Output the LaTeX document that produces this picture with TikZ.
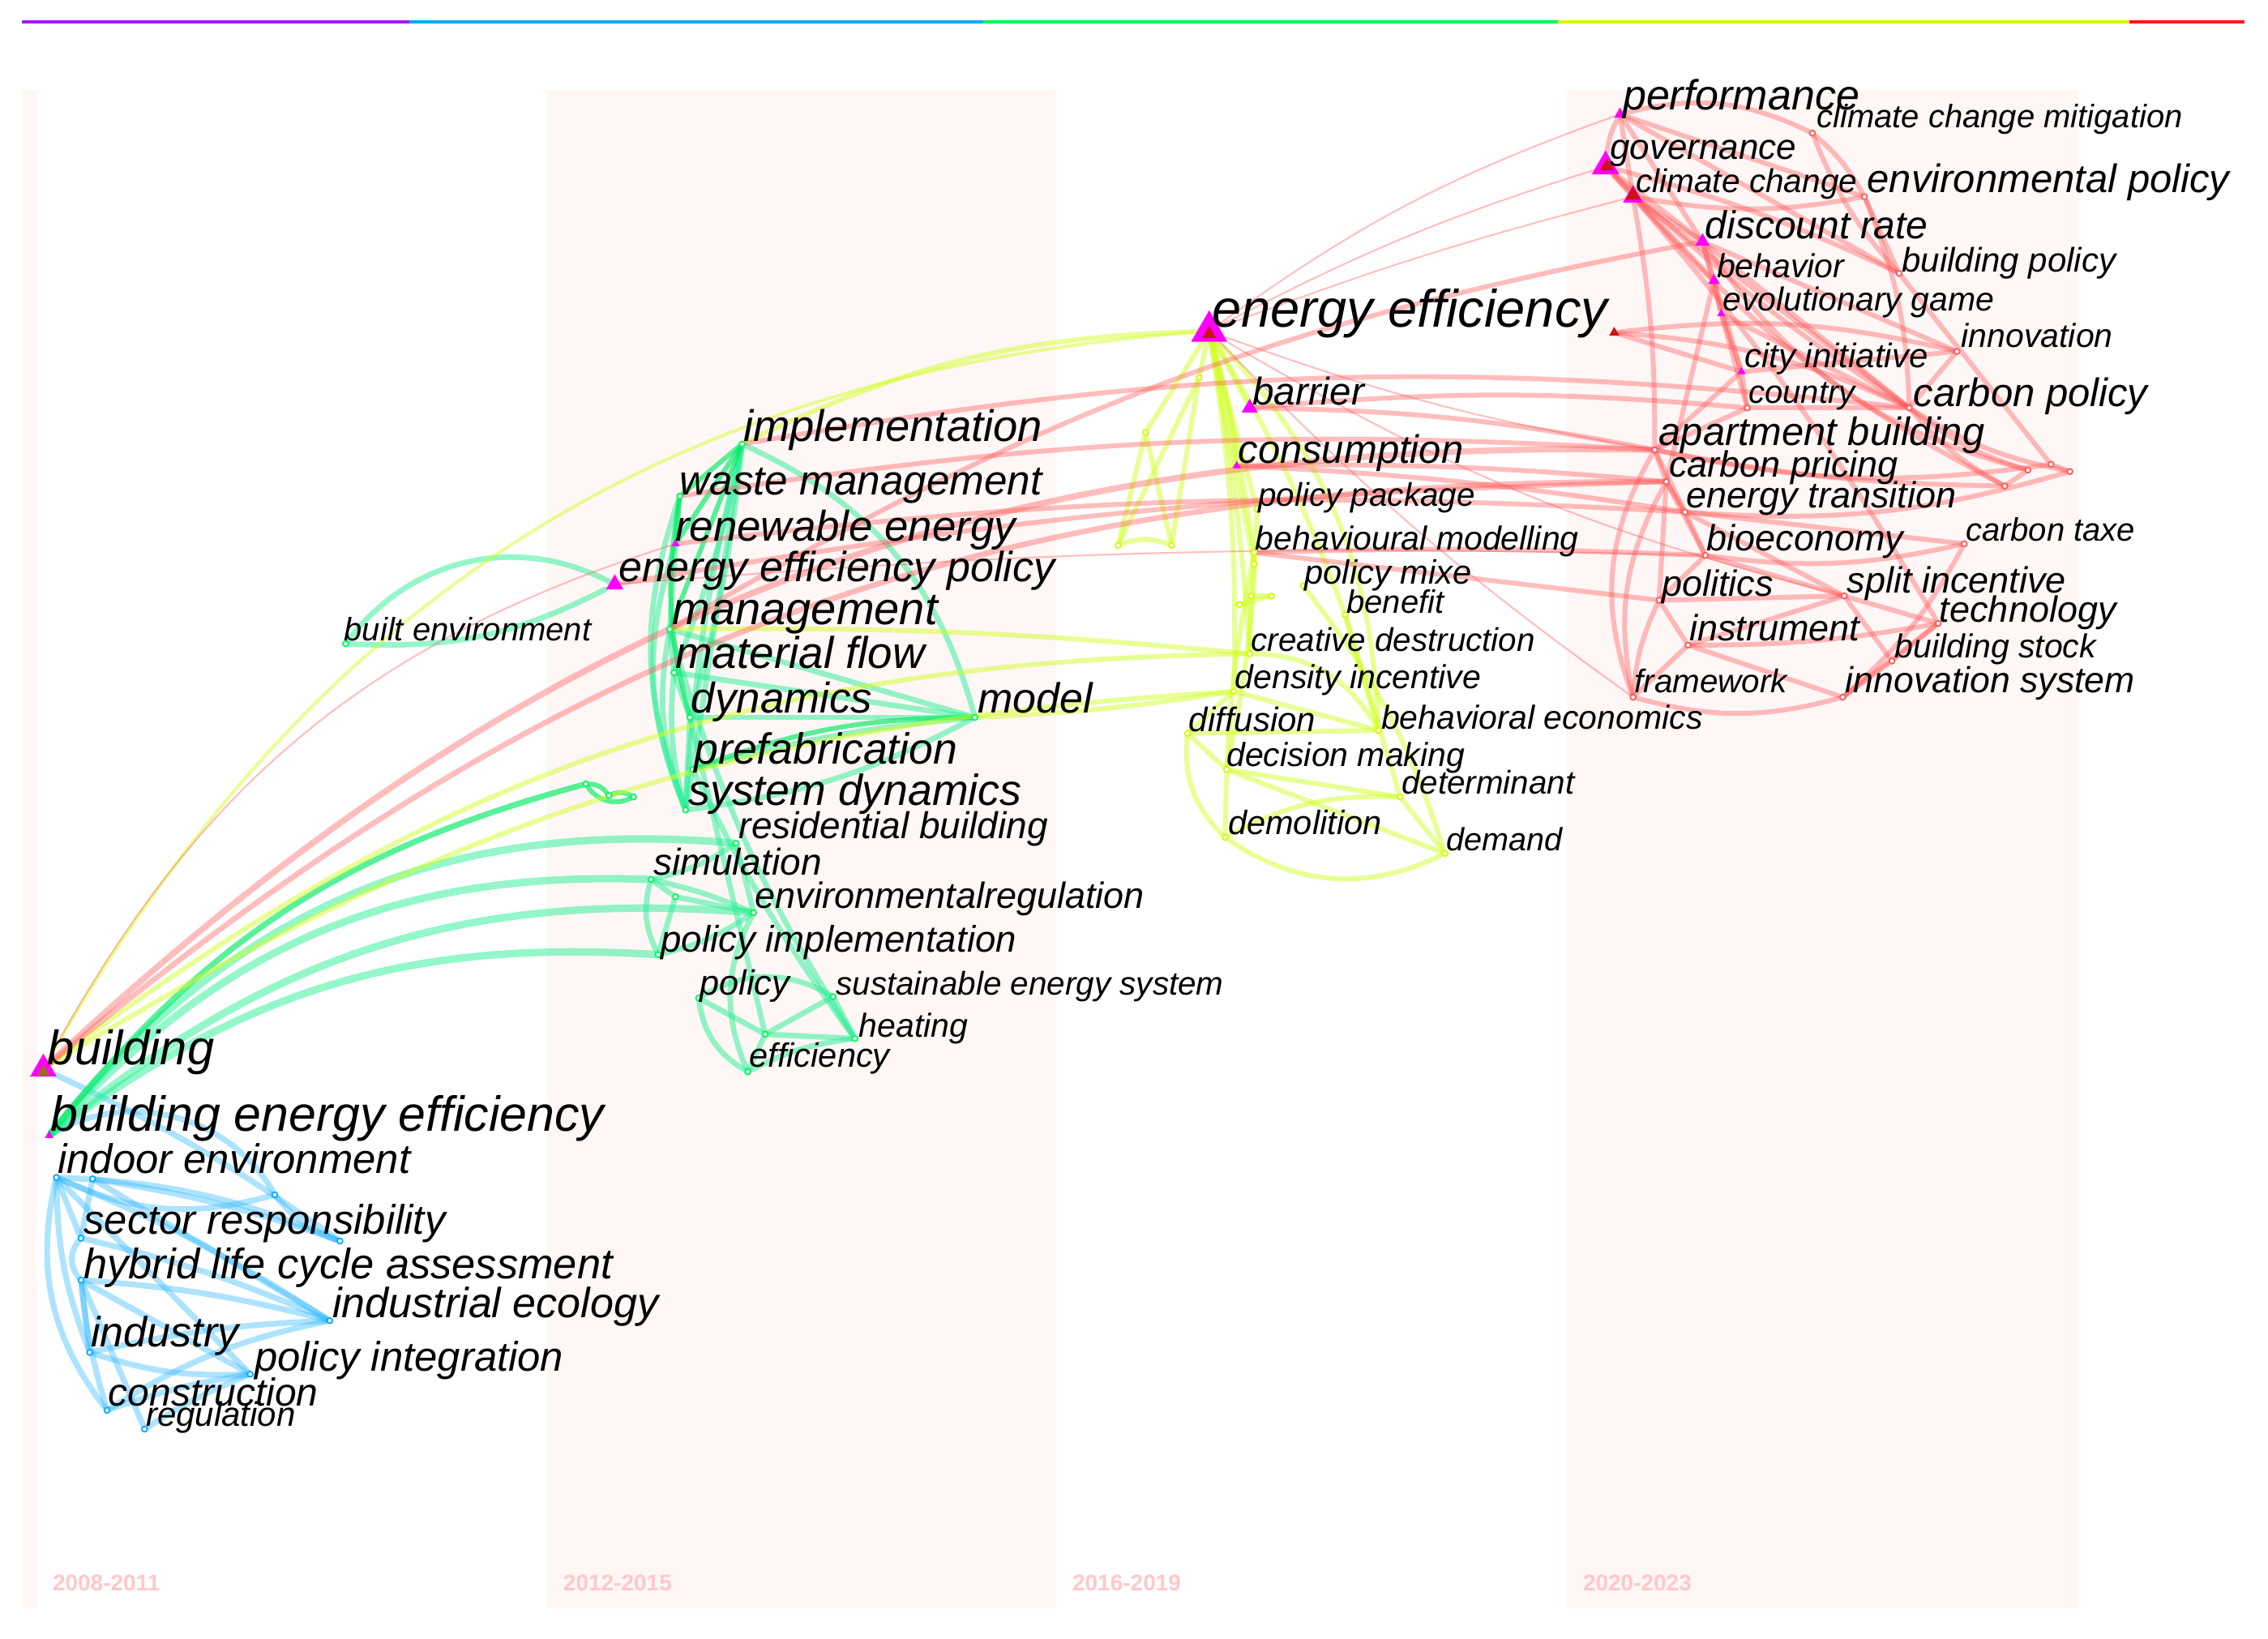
\documentclass[tikz,border=0pt]{standalone}
\usepackage{fontspec}
\setmainfont{Liberation Sans}
\usetikzlibrary{shapes.geometric}
\definecolor{cPur}{RGB}{165,25,250}
\definecolor{cBlu}{RGB}{0,170,255}
\definecolor{cGrn}{RGB}{0,250,90}
\definecolor{cYel}{RGB}{215,250,0}
\definecolor{cRed}{RGB}{255,25,25}
\definecolor{bandc}{RGB}{255,246,246}
\definecolor{yrc}{RGB}{255,200,200}
\definecolor{eRed}{RGB}{255,90,90}
\definecolor{eGrn}{RGB}{40,240,150}
\definecolor{eGrnB}{RGB}{0,235,100}
\definecolor{eBlu}{RGB}{50,185,255}
\definecolor{eYel}{RGB}{210,255,40}
\definecolor{mag}{RGB}{255,0,255}
\definecolor{dred}{RGB}{205,20,20}
\definecolor{olv}{RGB}{150,110,30}
\pgfdeclarelayer{bg}
\pgfdeclarelayer{edges}
\pgfsetlayers{bg,edges,main}
\newcommand\fz[1]{\fontsize{#1}{#1}\selectfont\itshape}
% name, dot style, dot x, dot y, label x, label baseline y, size, text
\newcommand\kw[8]{\node[#2] (#1) at (#3,#4) {};\node[klbl,font=\fz{#7}] (#1-l) at (#5,#6) {#8};}
\begin{document}
\begin{tikzpicture}[x=0.44611pt,y=-0.44611pt,
 klbl/.style={anchor=base west,inner sep=0pt,outer sep=0pt,text=black},
 kd/.style={circle,inner sep=0pt,minimum size=1.7pt,fill=white,draw=#1,line width=0.45pt},
 md/.style={regular polygon,regular polygon sides=3,inner sep=0pt,minimum size=3pt,fill=mag},
 tri/.style={regular polygon,regular polygon sides=3,inner sep=0pt,minimum size=#1,fill=mag},
 yr/.style={anchor=base west,inner sep=0pt,text=yrc,font=\bfseries\fontsize{7}{7}\selectfont},
 eR/.style={draw=eRed,line width=#1,opacity=0.4,line cap=round}, eR/.default=1.5pt,
 eG/.style={draw=eGrn,line width=#1,opacity=0.5,line cap=round}, eG/.default=1.7pt,
 eGb/.style={draw=eGrnB,line width=#1,opacity=0.65,line cap=round}, eGb/.default=1.5pt,
 eB/.style={draw=eBlu,line width=#1,opacity=0.4,line cap=round}, eB/.default=1.8pt,
 eY/.style={draw=eYel,line width=#1,opacity=0.5,line cap=round}, eY/.default=1.5pt]
\useasboundingbox (0,0) rectangle (1568,1133);
\begin{pgfonlayer}{bg}
\fill[white] (0,0) rectangle (1568,1133);
\fill[bandc] (15,62) rectangle (25,1112);
\fill[bandc] (378,62) rectangle (730,1112);
\fill[bandc] (1083,62) rectangle (1437,1112);
\fill[cPur] (15,13.8) rectangle (283,16.2);
\fill[cBlu] (283,13.8) rectangle (680,16.2);
\fill[cGrn] (680,13.8) rectangle (1077,16.2);
\fill[cYel] (1077,13.8) rectangle (1472,16.2);
\fill[cRed] (1472,13.8) rectangle (1552,16.2);
\end{pgfonlayer}
\node[yr] (yr1) at (36,1100) {2008-2011};
\node[yr] (yr2) at (389,1100) {2012-2015};
\node[yr] (yr3) at (741,1100) {2016-2019};
\node[yr] (yr4) at (1094,1100) {2020-2023};
% ---------- 2008-2011
\node[tri=9.5pt] (bld) at (30,739) {};
\node[tri=4.5pt,fill=olv] (bld-c) at (30,741) {};
\node[klbl,font=\fz{14.9}] (bld-l) at (33,736) {building};
\kw{bee}{md}{34}{785}{35}{782}{15.2}{building energy efficiency}
\kw{ind}{kd=cBlu}{39}{814}{40}{811}{12.7}{indoor environment}
\kw{sec}{kd=cBlu}{56}{856}{58}{853}{12.7}{sector responsibility}
\kw{hyb}{kd=cBlu}{56}{885}{58}{884}{13.1}{hybrid life cycle assessment}
\kw{iec}{kd=cBlu}{228}{913}{230}{911}{13}{industrial ecology}
\kw{idy}{kd=cBlu}{62}{935}{63}{931}{13}{industry}
\kw{pin}{kd=cBlu}{173}{950}{176}{948}{12.7}{policy integration}
\kw{con}{kd=cBlu}{74}{975}{75}{972}{12}{construction}
\kw{reg}{kd=cBlu}{100}{988}{101}{986}{10.5}{regulation}
\node[kd=cBlu] (b1) at (64,815) {};
\node[kd=cBlu] (b2) at (190,826) {};
\node[kd=cBlu] (b3) at (235,858) {};
% ---------- 2012-2015
\kw{imp}{kd=cGrn}{513}{307}{514}{305}{13.6}{implementation}
\kw{wm}{kd=cGrn}{470}{343}{470}{342}{12.8}{waste management}
\kw{re}{md}{467}{376}{467}{374}{13.2}{renewable energy}
\node[tri=6.2pt] (eep) at (425,404) {};
\node[klbl,font=\fz{13}] (eep-l) at (428,402) {energy efficiency policy};
\kw{be}{kd=cGrn}{239}{445}{238}{443}{10}{built environment}
\kw{mg}{kd=cGrn}{463}{435}{465}{432}{14}{management}
\kw{mf}{kd=cGrn}{466}{465}{467}{462}{13.7}{material flow}
\kw{dyn}{kd=cGrn}{477}{496}{478}{493}{13.2}{dynamics}
\kw{mod}{kd=cGrn}{674}{496}{676}{493}{13}{model}
\kw{pf}{kd=cGrn}{479}{532}{480}{528}{13.4}{prefabrication}
\kw{sd}{kd=cGrn}{474}{560}{476}{557}{13.4}{system dynamics}
\kw{rb}{kd=cGrn}{509}{583}{511}{580}{11.5}{residential building}
\kw{sim}{kd=cGrn}{450}{608}{452}{605}{11.5}{simulation}
\kw{er}{kd=cGrn}{521}{631}{522}{628}{11.25}{environmentalregulation}
\kw{pim}{kd=cGrn}{455}{660}{457}{658}{11.4}{policy implementation}
\kw{pol}{kd=cGrn}{483}{690}{484}{688}{10.8}{policy}
\kw{ses}{kd=cGrn}{576}{689}{578}{688}{10.1}{sustainable energy system}
\kw{hea}{kd=cGrn}{591}{718}{594}{717}{10.25}{heating}
\kw{eff}{kd=cGrn}{517}{741}{518}{738}{10.4}{efficiency}
\node[kd=cGrn] (g1) at (529,715) {};
\node[kd=cGrn] (g2) at (467,620) {};
\node[kd=cGrn] (g3) at (405,542) {};
\node[kd=cGrn] (g4) at (421,550) {};
\node[kd=cGrn] (g5) at (438,551) {};
% ---------- 2016-2019
\node[tri=12.9pt] (ee) at (836,229) {};
\node[tri=5pt,fill=dred] (ee-c) at (836,231) {};
\node[klbl,font=\fz{16.25}] (ee-l) at (838,226) {energy efficiency};
\node[tri=3.6pt,fill=dred] (rd1) at (1116,230) {};
\node[tri=5.7pt] (bar) at (864,282) {};
\node[klbl,font=\fz{11.9}] (bar-l) at (866,280) {barrier};
\kw{cons}{md}{855}{322}{856}{320}{12.25}{consumption}
\kw{pp}{kd=cYel}{869}{352}{870}{350}{10.1}{policy package}
\kw{bm}{kd=cYel}{867}{382}{868}{380}{10.25}{behavioural modelling}
\kw{pmx}{kd=cYel}{901}{405}{902}{404}{10.4}{policy mixe}
\kw{ben}{kd=cYel}{930}{425}{931}{424}{10}{benefit}
\kw{cd}{kd=cYel}{864}{452}{865}{450}{10.1}{creative destruction}
\kw{di}{kd=cYel}{853}{478}{854}{476}{10.25}{density incentive}
\kw{dif}{kd=cYel}{821}{507}{822}{506}{10.5}{diffusion}
\kw{bec}{kd=cYel}{953}{505}{955}{504}{10.25}{behavioral economics}
\kw{dm}{kd=cYel}{848}{532}{848}{530}{10.25}{decision making}
\kw{det}{kd=cYel}{968}{551}{969}{549}{10.1}{determinant}
\kw{dem}{kd=cYel}{847}{579}{849}{577}{10.4}{demolition}
\kw{dmd}{kd=cYel}{999}{590}{1000}{588}{9.9}{demand}
\node[kd=cYel] (y1) at (792,299) {};
\node[kd=cYel] (y2) at (773,377) {};
\node[kd=cYel] (y3) at (810,377) {};
\node[kd=cYel] (y4) at (829,261) {};
\node[kd=cYel] (y5) at (867,390) {};
\node[kd=cYel] (y6) at (865,412) {};
\node[kd=cYel] (y7) at (879,412) {};
\node[kd=cYel] (y8) at (857,418) {};
% ---------- 2020-2023
\node[tri=4.2pt] (perf) at (1120,79) {};
\node[klbl,font=\fz{13}] (perf-l) at (1122,76) {performance};
\kw{ccm}{kd=eRed}{1253}{92}{1256}{88}{10}{climate change mitigation}
\node[tri=9.8pt] (gov) at (1110,115) {};
\node[tri=5pt,fill=dred] (gov-c) at (1111,115) {};
\node[klbl,font=\fz{11}] (gov-l) at (1113,110) {governance};
\node[tri=7.2pt] (cc) at (1129,136) {};
\node[tri=5.5pt,fill=dred] (cc-c) at (1129,135) {};
\node[klbl,font=\fz{10.15}] (cc-l) at (1131,133) {climate change};
\kw{ep}{kd=eRed}{1289}{136}{1291}{133}{12.25}{environmental policy}
\node[tri=5.2pt] (dr) at (1177,167) {};
\node[klbl,font=\fz{12}] (dr-l) at (1179,165) {discount rate};
\node[tri=4.2pt] (beh) at (1185,194) {};
\node[klbl,font=\fz{10.25}] (beh-l) at (1187,192) {behavior};
\kw{bp}{kd=eRed}{1313}{189}{1315}{188}{10.5}{building policy}
\kw{eg}{md}{1190}{217}{1191}{215}{10.25}{evolutionary game}
\kw{inn}{kd=eRed}{1353}{243}{1356}{240}{10.25}{innovation}
\kw{ci}{md}{1204}{257}{1206}{254}{10.5}{city initiative}
\kw{cty}{kd=eRed}{1208}{282}{1209}{279}{10}{country}
\kw{cpol}{kd=eRed}{1320}{282}{1323}{281}{12.25}{carbon policy}
\kw{ab}{kd=eRed}{1144}{311}{1147}{308}{12.2}{apartment building}
\kw{cp}{kd=eRed}{1152}{333}{1154}{330}{11.25}{carbon pricing}
\kw{etr}{kd=eRed}{1165}{354}{1166}{351}{11.25}{energy transition}
\kw{ctx}{kd=eRed}{1358}{376}{1359}{374}{10}{carbon taxe}
\kw{bio}{kd=eRed}{1179}{384}{1180}{381}{11.25}{bioeconomy}
\kw{pol2}{kd=eRed}{1147}{415}{1149}{412}{11.25}{politics}
\kw{si}{kd=eRed}{1275}{412}{1277}{410}{11.25}{split incentive}
\kw{tech}{kd=eRed}{1340}{431}{1341}{430}{11.25}{technology}
\kw{inst}{kd=eRed}{1167}{446}{1168}{443}{11.25}{instrument}
\kw{bs}{kd=eRed}{1308}{457}{1310}{455}{10.25}{building stock}
\kw{fw}{kd=eRed}{1129}{482}{1130}{479}{10.1}{framework}
\kw{is}{kd=eRed}{1274}{482}{1276}{479}{11.15}{innovation system}
\node[kd=eRed] (r1) at (1386,336) {};
\node[kd=eRed] (r2) at (1402,325) {};
\node[kd=eRed] (r3) at (1418,321) {};
\node[kd=eRed] (r4) at (1431,326) {};
% ---------- edges
\begin{pgfonlayer}{edges}
\foreach \a/\b/\k in {bee/b2/45,ind/b2/-20,b2/b3/-15,ind/b3/10,b1/b3/5,ind/con/-25,ind/idy/-10,ind/sec/0,ind/iec/5,ind/pin/0,b1/iec/0,sec/hyb/-40,sec/iec/5,hyb/iec/5,hyb/pin/0,hyb/idy/0,hyb/con/-5,idy/pin/-10,idy/iec/5,con/pin/5,con/iec/10,reg/pin/5,reg/hyb/0,bld/b3/5,b1/sec/0}
  \draw[eB] (\a) to[bend left=\k] (\b);
\foreach \a/\b/\k in {bee/rb/28,bee/sim/25,bee/er/22,bee/pim/20}
  \draw[eG=2.3pt] (\a) to[bend left=\k] (\b);
\draw[eGb=1.8pt] (bee) to[bend left=18] (g3);
\foreach \a/\b/\k in {sim/er/5,sim/pim/-20,rb/sim/10,rb/er/0,er/pim/10,g2/er/0,sim/g2/0,pim/g2/0,pol/g1/0,pol/eff/-25,pol/ses/30,ses/g1/0,ses/hea/0,g1/hea/0,g1/eff/0,eff/hea/10,pf/hea/-5,mg/hea/-8,dyn/g1/0,er/eff/-25,imp/mf/5,imp/dyn/5,imp/mod/25,imp/pf/0,imp/sd/-5,wm/sd/-20,re/mg/0,re/sd/-20,mg/mf/0,mg/mod/0,mf/mod/0,dyn/mod/0,mf/dyn/0,pf/mod/5,mg/sd/-15,mf/sd/-10,dyn/sd/0,pf/sd/0,mod/sd/10,eep/be/-40,be/eep/-15}
  \draw[eG] (\a) to[bend left=\k] (\b);
\foreach \a/\b/\k in {imp/wm/0,imp/re/0,imp/mg/0,wm/re/0,wm/dyn/-12,mod/pf/-10,g3/g4/25,g4/g5/25,g3/g5/-40}
  \draw[eGb] (\a) to[bend left=\k] (\b);
% yellow
\draw[eY=1pt] (bld) to[bend left=28] (ee);
\foreach \a/\b/\k in {imp/ee/12,bld/cd/18,bld/di/14,mg/cd/3,mod/di/-3,ee/bar/0,ee/cons/5,ee/y4/0,ee/y1/0,ee/bm/3,ee/cd/3,ee/pp/0,ee/di/5,ee/y5/0,ee/bec/20,ee/ben/5,y1/y2/0,y1/y3/0,y4/y2/0,y4/y3/0,y2/y3/20,bm/dem/-5,pp/dm/5,bm/y5/0,y5/y6/0,y6/y7/0,y8/y7/0,cd/y6/0,di/dif/0,dif/dm/0,dif/dem/-25,dif/bec/0,di/bec/0,dm/det/0,dm/dmd/0,dem/dmd/-30,dem/det/15,det/dmd/0,cd/bec/30,ben/det/0,pmx/dmd/10,ben/bec/0}
  \draw[eY] (\a) to[bend left=\k] (\b);
% red long
\draw[eR=1.9pt] (bld) to[bend left=22] (ab);
\draw[eR=1.7pt] (bld) to[bend left=20] (cp);
\draw[eR=0.5pt] (bld) to[bend left=22] (re);
\foreach \a/\b/\k in {mg/dr/10,imp/cpol/8,wm/ab/6,eep/cp/4,re/etr/5,bar/ab/5,bar/cty/5,cons/etr/3,cons/cp/3,bm/bio/2,bm/pol2/0,rd1/cpol/10,rd1/ci/0,rd1/inn/10}
  \draw[eR] (\a) to[bend left=\k] (\b);
\foreach \a/\b/\k in {eep/bio/3,ee/perf/8,ee/gov/5,ee/cc/3,ee/ab/-5,ee/fw/-5,ee/si/-8}
  \draw[eR=0.5pt] (\a) to[bend left=\k] (\b);
% red cluster
\foreach \a/\b/\k in {perf/gov/-10,perf/cc/0,perf/dr/0,perf/bp/0,perf/ccm/20,perf/ep/0,gov/cc/0,gov/dr/0,gov/beh/0,gov/cpol/-5,gov/bp/5,cc/dr/0,cc/ep/-10,cc/cpol/0,cc/ab/5,cc/tech/5,ccm/ep/10,ccm/bp/-10,ep/bp/0,ep/cpol/10,dr/beh/0,dr/eg/0,dr/inn/0,dr/cpol/0,beh/eg/0,beh/ci/0,beh/cp/0,eg/ci/0,eg/cty/0,eg/cpol/0,inn/cpol/0,inn/ci/0,ci/cty/0,ci/ab/0,cty/cpol/0,cty/ab/0,ab/cp/0,ab/etr/0,cp/etr/0,cp/bio/0,cp/pol2/0,cp/fw/-20,etr/bio/0,etr/ctx/0,etr/si/0,bio/si/0,bio/ctx/-10,bio/pol2/0,pol2/inst/0,pol2/fw/-10,pol2/si/0,si/tech/0,si/bs/0,si/inst/0,tech/bs/0,tech/is/0,tech/inst/5,inst/fw/0,inst/is/0,fw/is/-15,bs/is/0,ctx/is/10,ab/fw/-25,cpol/r1/-10,cpol/r2/-10,ab/r3/-10,cpol/r4/-10,dr/r2/-20,cc/r1/-10,bp/r3/0,etr/r4/-10,r1/r2/0,r3/r4/0,ab/r1/-5}
  \draw[eR] (\a) to[bend left=\k] (\b);
\end{pgfonlayer}
\end{tikzpicture}
\end{document}
